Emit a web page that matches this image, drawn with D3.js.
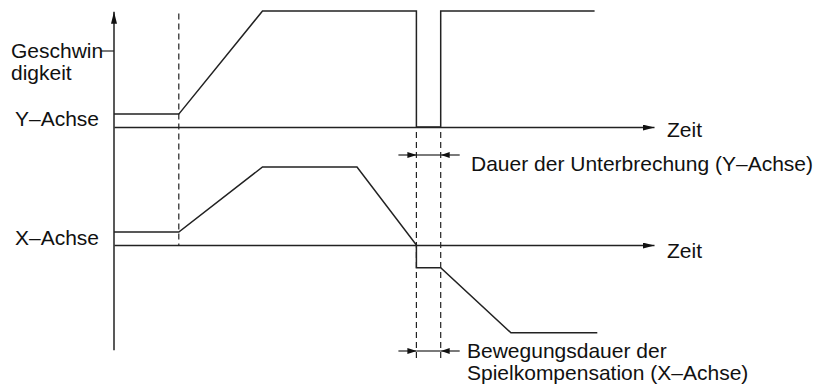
<!DOCTYPE html>
<html>
<head>
<meta charset="utf-8">
<script src="https://cdn.jsdelivr.net/npm/d3@7"></script>
<style>
  body { margin: 0; background: #fff; }
  svg { display: block; }
  text { font-family: "Liberation Sans", Arial, Helvetica, sans-serif; font-size: 21px; fill: #111; }
</style>
</head>
<body>
<div id="container"></div>
<script>
// time points (arbitrary units) and speed values of the two axes
const timeY = [0, 12, 27.5, 56, 56, 60.5, 60.5, 89]
const speedY = [1, 1, 9, 9, 0, 0, 9, 9]

const timeX = [0, 12, 27.5, 45, 56, 56, 60.5, 73.5, 89.5]
const speedX = [1, 1, 6, 6, 0, -1.75, -1.75, -6.75, -6.75]

// marker times: start of movement, start / end of the interruption
const startTime = 12
const gapTimes = [56, 60.5]

const labels = {
    speed: ["Geschwin", "digkeit"],
    axisY: "Y\u2013Achse",
    axisX: "X\u2013Achse",
    time: "Zeit",
    gap: "Dauer der Unterbrechung (Y\u2013Achse)",
    comp: ["Bewegungsdauer der", "Spielkompensation (X\u2013Achse)"]
}

const width = 821, height = 392
const stroke = "#222"

const svg = d3.select("div#container")
    .append("svg")
    .attr("width", width)
    .attr("height", height)

const defs = svg.append("defs")
defs.append("marker")
    .attr("id", "axisArrow")
    .attr("viewBox", "0 -3 12 6")
    .attr("markerUnits", "userSpaceOnUse")
    .attr("markerWidth", 12)
    .attr("markerHeight", 6)
    .attr("refX", 12)
    .attr("refY", 0)
    .attr("orient", "auto")
    .append("path")
    .attr("d", "M0,-3L12,0L0,3Z")
    .attr("fill", "#111")

defs.append("marker")
    .attr("id", "dimArrow")
    .attr("viewBox", "0 -3 9 6")
    .attr("markerUnits", "userSpaceOnUse")
    .attr("markerWidth", 9)
    .attr("markerHeight", 6)
    .attr("refX", 9)
    .attr("refY", 0)
    .attr("orient", "auto")
    .append("path")
    .attr("d", "M0,-3L9,0L0,3Z")
    .attr("fill", "#111")

const x = d3.scaleLinear().domain([0, 100]).range([114, 654])
const yTop = d3.scaleLinear().domain([0, 9]).range([127, 11])
const yBot = d3.scaleLinear().domain([0, 6]).range([245, 167])

// vertical speed axis
svg.append("line")
    .attr("x1", x(0)).attr("x2", x(0))
    .attr("y1", yBot(-8.1)).attr("y2", yTop(8.95))
    .attr("stroke", stroke)
    .attr("stroke-width", 1.5)
    .attr("marker-end", "url(#axisArrow)")

svg.append("line")
    .attr("x1", x(0) - 13).attr("x2", x(0))
    .attr("y1", 51).attr("y2", 51)
    .attr("stroke", stroke)
    .attr("stroke-width", 1.2)

// time axes, with the "Zeit" label after the arrow
const timeAxis = d3.axisBottom(x).tickValues([]).tickSizeOuter(0)
;[[yTop(0), 9.5], [yBot(0), 12.5]].forEach(([yy, dy]) => {
    const g = svg.append("g")
        .attr("transform", `translate(0,${yy})`)
        .call(timeAxis)
    g.select(".domain")
        .attr("stroke", stroke)
        .attr("stroke-width", 1.5)
        .attr("marker-end", "url(#axisArrow)")
    svg.append("text")
        .attr("x", x(100) + 13)
        .attr("y", yy + dy)
        .text(labels.time)
})

// dashed guide lines
const dash = "6,4"
svg.append("line")
    .attr("x1", x(startTime)).attr("x2", x(startTime))
    .attr("y1", yTop(8.8)).attr("y2", yBot(0))
    .attr("stroke", stroke)
    .attr("stroke-width", 1.2)
    .attr("stroke-dasharray", dash)

svg.selectAll("line.gap")
    .data(gapTimes)
    .enter()
    .append("line")
    .attr("class", "gap")
    .attr("x1", d => x(d)).attr("x2", d => x(d))
    .attr("y1", yTop(0) + 5).attr("y2", yBot(0) + 117)
    .attr("stroke", stroke)
    .attr("stroke-width", 1.2)
    .attr("stroke-dasharray", dash)

// speed profiles
const lineTop = d3.line().x(d => x(d[0])).y(d => yTop(d[1]))
const lineBot = d3.line().x(d => x(d[0])).y(d => yBot(d[1]))

svg.append("path")
    .attr("d", lineTop(d3.zip(timeY, speedY)))
    .attr("fill", "none")
    .attr("stroke", stroke)
    .attr("stroke-width", 1.5)

svg.append("path")
    .attr("d", lineBot(d3.zip(timeX, speedX)))
    .attr("fill", "none")
    .attr("stroke", stroke)
    .attr("stroke-width", 1.5)

// dimension arrows
function dimension(yy) {
    const a = x(gapTimes[0]), b = x(gapTimes[1])
    svg.append("line")
        .attr("x1", a - 18).attr("x2", a).attr("y1", yy).attr("y2", yy)
        .attr("stroke", stroke).attr("stroke-width", 1.2)
        .attr("marker-end", "url(#dimArrow)")
    svg.append("line")
        .attr("x1", b + 19).attr("x2", b).attr("y1", yy).attr("y2", yy)
        .attr("stroke", stroke).attr("stroke-width", 1.2)
        .attr("marker-end", "url(#dimArrow)")
    svg.append("line")
        .attr("x1", a).attr("x2", b).attr("y1", yy).attr("y2", yy)
        .attr("stroke", stroke).attr("stroke-width", 1.2)
}
dimension(yTop(0) + 28)
dimension(yBot(0) + 106)

// labels
svg.append("text").attr("x", 11).attr("y", 58).text(labels.speed[0])
svg.append("text").attr("x", 11).attr("y", 80).text(labels.speed[1])
svg.append("text").attr("x", 15).attr("y", 126).text(labels.axisY)
svg.append("text").attr("x", 15).attr("y", 245).text(labels.axisX)
svg.append("text").attr("x", 471).attr("y", 171).text(labels.gap)
svg.append("text").attr("x", 467).attr("y", 358).text(labels.comp[0])
svg.append("text").attr("x", 467).attr("y", 380).text(labels.comp[1])
</script>
</body>
</html>
